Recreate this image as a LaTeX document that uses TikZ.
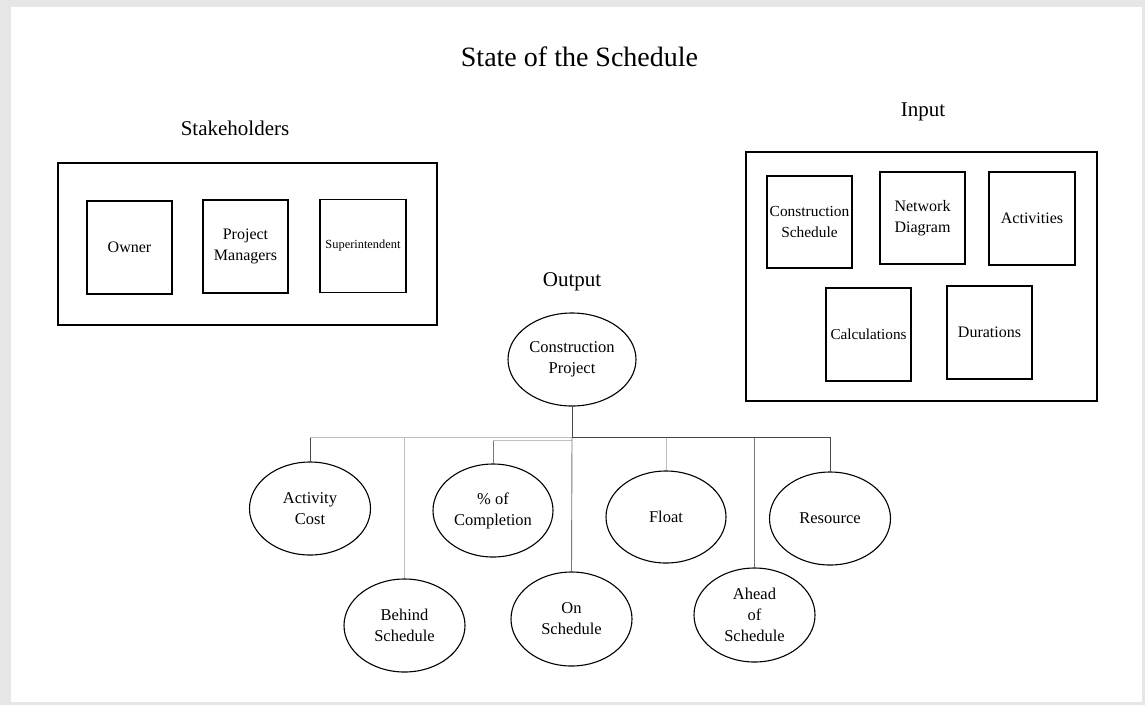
\documentclass[tikz,border=0pt]{standalone}
\usepackage{fontspec}
\setmainfont{Liberation Serif}
\usetikzlibrary{shapes.geometric}
\definecolor{framegray}{RGB}{230,230,230}
\definecolor{dk}{RGB}{70,70,70}
\definecolor{md}{RGB}{120,120,120}
\definecolor{lt}{RGB}{190,190,190}
\tikzset{
  heading/.style={anchor=base, inner sep=0pt, font=\fontsize{21}{25}\selectfont},
  groupbox/.style={draw, line width=1.6pt},
  itembox/.style={draw, line width=1.1pt, inner sep=0pt, align=center,
    font=\fontsize{16}{21}\selectfont},
  bubble/.style={draw, ellipse, line width=1.1pt, inner sep=0pt, align=center,
    minimum width=121pt, minimum height=93pt, font=\fontsize{16.5}{21}\selectfont},
  dkline/.style={draw=dk, line width=0.9pt},
  mdline/.style={draw=md, line width=0.9pt},
  ltline/.style={draw=lt, line width=0.9pt},
}
\begin{document}
\begin{tikzpicture}[x=1pt, y=-1pt]
  % page frame
  \fill[framegray] (0,0) rectangle (1145,705);
  \fill[white] (11,7) rectangle (1142,702);
  \useasboundingbox (0,0) rectangle (1145,705);

  % headings
  \node[heading, font=\fontsize{28}{32}\selectfont] (title) at (579.5,66.5) {State of the Schedule};
  \node[heading] (hstake) at (235,135) {Stakeholders};
  \node[heading] (hinput) at (923,116.5) {Input};
  \node[heading] (houtput) at (572,286.5) {Output};

  % stakeholders group
  \node[groupbox, minimum width=379pt, minimum height=162pt] (stake) at (247.5,244) {};
  \node[itembox, minimum width=85pt, minimum height=93pt] (owner) at (129.5,247.5) {Owner};
  \node[itembox, minimum width=85pt, minimum height=93pt] (pm) at (245.5,246.5) {Project\\Managers};
  \node[itembox, minimum width=86pt, minimum height=93pt, font=\fontsize{12.4}{15}\selectfont] (super) at (363,246) {Superintendent};

  % input group
  \node[groupbox, minimum width=351pt, minimum height=249pt] (input) at (921.5,276.5) {};
  \node[itembox, minimum width=85pt, minimum height=92pt, font=\fontsize{15.4}{21}\selectfont] (cs) at (809.5,222) {Construction\\Schedule};
  \node[itembox, minimum width=85pt, minimum height=92pt] (nd) at (922.5,218) {Network\\Diagram};
  \node[itembox, minimum width=86pt, minimum height=93pt] (act) at (1032,218.5) {Activities};
  \node[itembox, minimum width=85pt, minimum height=93pt, font=\fontsize{15.2}{21}\selectfont] (calc) at (868.5,334.5) {Calculations};
  \node[itembox, minimum width=85pt, minimum height=93pt] (dur) at (989.5,332.5) {Durations};

  % output tree
  \node[bubble, minimum width=128pt] (cp) at (572,359.5) {Construction\\Project};
  \node[bubble] (ac) at (310,508.5) {Activity\\Cost};
  \node[bubble, minimum width=120pt] (pc) at (493,510.5) {\% of\\Completion};
  \node[bubble, minimum width=120pt, minimum height=92pt] (fl) at (666,517) {Float};
  \node[bubble] (rs) at (830,518.5) {Resource};
  \node[bubble] (bs) at (404.5,625.5) {Behind\\Schedule};
  \node[bubble, minimum height=94pt] (os) at (571.5,619) {On\\Schedule};
  \node[bubble, minimum height=94pt] (ah) at (754.5,615) {Ahead\\of\\Schedule};

  \coordinate (bus) at (572,437.5);
  \coordinate (bus2) at (572,440.5);

  \draw[dkline] (cp.south) -- (bus);
  \draw[ltline] (bus) -- (bus -| ac.north);
  \draw[dkline] (bus -| ac.north) -- (ac.north);
  \draw[ltline] (bus -| bs.north) -- (bs.north);
  \draw[ltline] (bus2) -- (bus2 -| pc.north);
  \draw[mdline] (bus2 -| pc.north) -- (pc.north);
  \draw[mdline] (bus) -- (os.north);
  \draw[dkline] (bus) -- (bus -| rs.north) -- (rs.north);
  \draw[ltline] (bus -| fl.north) -- (fl.north);
  \draw[mdline] (bus -| ah.north) -- (ah.north);
\end{tikzpicture}
\end{document}
